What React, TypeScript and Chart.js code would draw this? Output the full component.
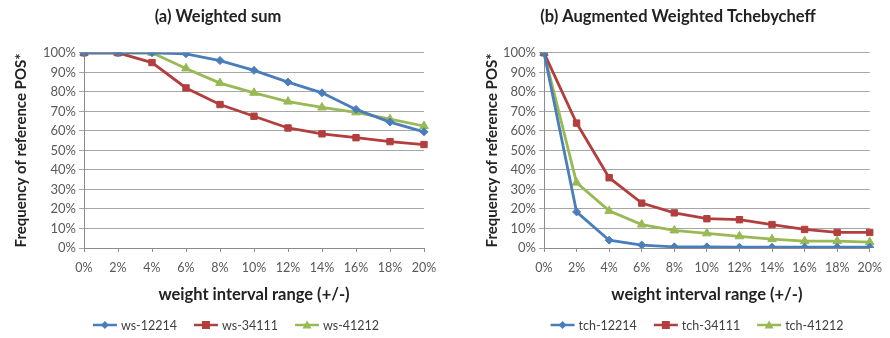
import React, { useEffect, useRef } from "react";
import { Chart, registerables } from "chart.js";

Chart.register(...registerables);

const xLabels = ["0%", "2%", "4%", "6%", "8%", "10%", "12%", "14%", "16%", "18%", "20%"];

const ws12214 = [100, 100, 100, 99.5, 96, 91, 85, 79.5, 71, 64.5, 59.5];
const ws34111 = [100, 100, 95, 82, 73.5, 67.5, 61.5, 58.5, 56.5, 54.5, 53];
const ws41212 = [100, 100, 100, 92, 84.5, 79.5, 75, 72, 69.5, 66, 62.5];

const tch12214 = [100, 18.5, 4, 1.5, 0.6, 0.6, 0.4, 0.4, 0.4, 0.4, 0.4];
const tch34111 = [100, 64, 36, 23, 18, 15, 14.5, 12, 9.5, 8, 8];
const tch41212 = [100, 33.5, 19, 12, 9, 7.5, 6, 4.5, 3.5, 3.5, 3];

const BLUE = "#4a7ebb";
const RED = "#b23f3d";
const GREEN = "#98b954";
const FONT = "Lato, 'Open Sans', sans-serif";

type Style = "rectRot" | "rect" | "triangle";

function drawMarker(ctx: CanvasRenderingContext2D, style: Style, x: number, y: number) {
  ctx.beginPath();
  if (style === "rect") {
    ctx.rect(x - 4, y - 4, 8, 8);
  } else if (style === "rectRot") {
    ctx.moveTo(x, y - 4);
    ctx.lineTo(x + 4, y);
    ctx.lineTo(x, y + 4);
    ctx.lineTo(x - 4, y);
    ctx.closePath();
  } else {
    ctx.moveTo(x, y - 4.5);
    ctx.lineTo(x + 4.5, y + 3.5);
    ctx.lineTo(x - 4.5, y + 3.5);
    ctx.closePath();
  }
  ctx.fill();
}

type Series = { label: string; data: number[]; color: string; style: Style; radius: number };

function Panel(props: {
  title: string;
  series: Series[];
  padLeft: number;
  yWidth: number;
  padRight: number;
  legendCenter: number;
}) {
  const ref = useRef<HTMLCanvasElement>(null);
  useEffect(() => {
    const legendPlugin = {
      id: "excelLegend",
      afterDraw(ch: any) {
        const ctx: CanvasRenderingContext2D = ch.ctx;
        ctx.save();
        ctx.font = `12.5px ${FONT}`;
        ctx.textBaseline = "middle";
        const lineW = 24;
        const gapText = 4;
        const gapItem = 17;
        const widths = props.series.map((s) => lineW + gapText + ctx.measureText(s.label).width);
        const total = widths.reduce((a, b) => a + b, 0) + gapItem * (widths.length - 1);
        let x = props.legendCenter - total / 2;
        const y = 325;
        props.series.forEach((s, i) => {
          ctx.strokeStyle = s.color;
          ctx.fillStyle = s.color;
          ctx.lineWidth = 2.5;
          ctx.beginPath();
          ctx.moveTo(x, y);
          ctx.lineTo(x + lineW, y);
          ctx.stroke();
          drawMarker(ctx, s.style, x + lineW / 2, y);
          ctx.fillStyle = "#404040";
          ctx.fillText(s.label, x + lineW + gapText, y + 0.5);
          x += widths[i] + gapItem;
        });
        ctx.restore();
      },
    };
    const chart = new Chart(ref.current!, {
      type: "line",
      data: {
        labels: xLabels,
        datasets: props.series.map((s) => ({
          label: s.label,
          data: s.data,
          borderColor: s.color,
          backgroundColor: s.color,
          borderWidth: 2.8,
          pointStyle: s.style,
          pointRadius: s.radius,
          pointBorderWidth: 1,
          tension: 0,
        })),
      },
      plugins: [legendPlugin],
      options: {
        animation: false,
        responsive: false,
        maintainAspectRatio: false,
        layout: { padding: { left: props.padLeft, right: props.padRight, top: 0, bottom: 28 } },
        plugins: {
          title: {
            display: true,
            text: props.title,
            color: "#222",
            font: { family: FONT, size: 16.5, weight: "bold" },
            padding: { top: 7, bottom: 26 },
          },
          legend: { display: false },
          tooltip: { enabled: false },
        },
        scales: {
          x: {
            type: "category",
            offset: false,
            border: { color: "#8c8c8c", width: 1 },
            grid: { drawOnChartArea: false, drawTicks: true, tickLength: 4, color: "#8c8c8c" },
            ticks: {
              color: "#595959",
              font: { family: FONT, size: 12.5 },
              maxRotation: 0,
              autoSkip: false,
              padding: 8,
            },
            title: {
              display: true,
              text: "weight interval range (+/-)",
              color: "#222",
              font: { family: FONT, size: 16.5, weight: "bold" },
              padding: { top: 5, bottom: 5 },
            },
            afterFit: (scale: any) => {
              scale.height = 62;
            },
          },
          y: {
            min: 0,
            max: 100,
            border: { color: "#8c8c8c", width: 1 },
            grid: { color: "#a6a6a6", lineWidth: 1, drawTicks: true, tickLength: 5 },
            ticks: {
              stepSize: 10,
              color: "#595959",
              font: { family: FONT, size: 13 },
              padding: 3,
              callback: (v: any) => v + "%",
            },
            title: {
              display: true,
              text: "Frequency of reference POS*",
              color: "#222",
              font: { family: FONT, size: 15, weight: "bold" },
              padding: { top: 0, bottom: 4 },
            },
            afterFit: (scale: any) => {
              scale.width = props.yWidth;
            },
          },
        },
      },
    } as any);
    return () => chart.destroy();
  }, []);
  return <canvas ref={ref} width={445} height={338} style={{ display: "block", width: 445, height: 338 }} />;
}

export default function App() {
  const left: Series[] = [
    { label: "ws-12214", data: ws12214, color: BLUE, style: "rectRot", radius: 4 },
    { label: "ws-34111", data: ws34111, color: RED, style: "rect", radius: 4.5 },
    { label: "ws-41212", data: ws41212, color: GREEN, style: "triangle", radius: 5 },
  ];
  const right: Series[] = [
    { label: "tch-12214", data: tch12214, color: BLUE, style: "rectRot", radius: 4 },
    { label: "tch-34111", data: tch34111, color: RED, style: "rect", radius: 4.5 },
    { label: "tch-41212", data: tch41212, color: GREEN, style: "triangle", radius: 5 },
  ];
  return (
    <div style={{ position: "fixed", left: 0, top: 0, width: 890, height: 338, background: "#fff", display: "flex" }}>
      <Panel title="(a) Weighted sum" series={left} padLeft={12} yWidth={72} padRight={21} legendCenter={236} />
      <Panel title="(b) Augmented Weighted Tchebycheff" series={right} padLeft={38} yWidth={61} padRight={17} legendCenter={252} />
    </div>
  );
}
